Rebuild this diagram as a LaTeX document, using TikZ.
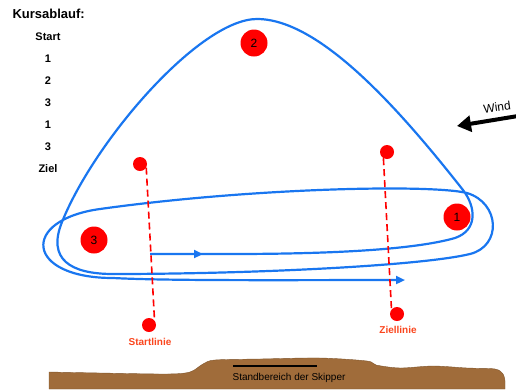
\documentclass[tikz,border=0pt]{standalone}
\usepackage{fontspec}
\setmainfont{Liberation Sans}
\usetikzlibrary{arrows.meta}
\definecolor{courseblue}{RGB}{25,118,240}
\definecolor{lineorange}{RGB}{250,70,30}
\definecolor{groundbrown}{RGB}{160,108,58}

\begin{document}
\begin{tikzpicture}[x=1pt, y=-1pt,
    buoy/.style={circle, fill=red, minimum size=27pt, inner sep=0pt, font=\fontsize{12}{14}\selectfont},
    linedot/.style={circle, fill=red, minimum size=14pt, inner sep=0pt},
    course/.style={draw=courseblue, line width=2.2pt, line join=round},
    redline/.style={draw=red, line width=1.6pt, dash pattern=on 7pt off 4pt},
    listitem/.style={font=\fontsize{11}{13}\selectfont\bfseries},
    lbl/.style={font=\fontsize{10}{12}\selectfont\bfseries, text=lineorange},
    arrow/.style={-{Triangle[length=9pt, width=8pt]}}
]
\useasboundingbox (0,0) rectangle (516,389);

% course list
\node[anchor=west, font=\fontsize{13}{15}\selectfont\bfseries] (title) at (9,14) {Kursablauf:};
\foreach \txt [count=\i] in {Start,1,2,3,1,3,Ziel}
    \node[listitem] (step\i) at (48,15+22*\i) {\txt};

% ground
\fill[groundbrown, draw=groundbrown!80!black, line width=0.4pt]
    plot[smooth, tension=0.5] coordinates {(49,372) (100,373) (167,374) (190,372) (203,364)
    (215,360) (260,359) (320,358) (367,361) (376,365) (400,368) (433,366) (467,368)
    (495,369) (503,374) (505,381)} -- (505,389) -- (49,389) -- cycle;
\draw[line width=1.4pt] (233,366) -- (317,366);
\node[font=\fontsize{10}{12}\selectfont] (stand) at (289,378) {Standbereich der Skipper};

% course: start -> 1 -> 2 -> 3 -> 1 -> 3 -> finish
\draw[course, arrow] (150,254) -- (230,254)
    .. controls (350,254) and (420,248) .. (455,238)
    .. controls (478,230) and (476,207) .. (463,190)
    .. controls (400,110) and (320,19) .. (257,19)
    .. controls (200,19) and (95,140) .. (62,222)
    .. controls (47,259) and (70,274) .. (113,274)
    .. controls (250,274) and (420,266) .. (470,254)
    .. controls (502,246) and (500,203) .. (467,193)
    .. controls (430,184) and (250,188) .. (100,209)
    .. controls (20,220) and (25,278) .. (113,278)
    .. controls (170,281) and (300,280) .. (405,280);
\draw[course, arrow] (150,254) -- (203,254);

% marks
\node[buoy] (b1) at (457,217) {1};
\node[buoy] (b2) at (254,43) {2};
\node[buoy] (b3) at (94,240) {3};

% start and finish lines
\node[linedot] (s1) at (140,164) {};
\node[linedot] (s2) at (149,325) {};
\node[linedot] (z1) at (387,152) {};
\node[linedot] (z2) at (397,314) {};
\draw[redline] (s1.-30) -- (s2.40);
\draw[redline] (z1.-120) -- (z2.140);
\node[lbl] (startlbl) at (150,342) {Startlinie};
\node[lbl] (ziellbl) at (398,330) {Ziellinie};

% wind
\coordinate (windtail) at (518,116);
\coordinate (windtip) at (457,126);
\draw[line width=4pt, -{Triangle[length=14pt, width=16pt]}] (windtail) -- (windtip);
\node[rotate=8, font=\fontsize{12}{14}\selectfont] (wind) at (497,107) {Wind};

\end{tikzpicture}
\end{document}
